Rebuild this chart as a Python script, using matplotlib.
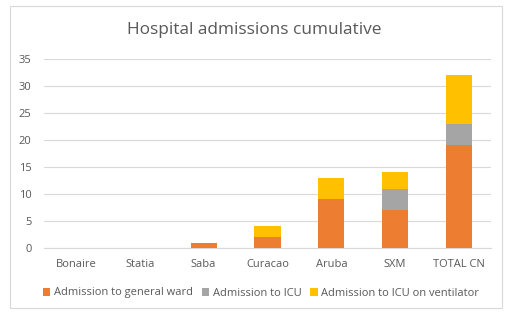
import matplotlib.pyplot as plt
from matplotlib.patches import Rectangle

###### DATA ######
categories = ["Bonaire", "Statia", "Saba", "Curacao", "Aruba", "SXM", "TOTAL CN"]
general_ward = [0, 0, 1, 2, 9, 7, 19]
icu = [0, 0, 0, 0, 0, 4, 4]
icu_ventilator = [0, 0, 0, 2, 4, 3, 9]
y_ticks = [0, 5, 10, 15, 20, 25, 30, 35]

###### STYLE ######
plt.rcParams['font.family'] = ['Open Sans', 'DejaVu Sans']
text_col = "#595959"
colors = ["#ED7D31", "#A5A5A5", "#FFC000"]

fig = plt.figure(figsize=(5.08, 3.12), dpi=100)
fig.patches.append(Rectangle((10/508, 1 - 308/312), 492/508, 302/312,
                             transform=fig.transFigure, fill=False,
                             edgecolor="#D9D9D9", linewidth=0.8))

ax = fig.add_axes([44/508, 1 - 248/312, 447/508, 189/312])

x = list(range(len(categories)))
bottom2 = [a + b for a, b in zip(general_ward, icu)]
ax.bar(x, general_ward, width=0.41, color=colors[0], label="Admission to general ward", zorder=3)
ax.bar(x, icu, width=0.41, bottom=general_ward, color=colors[1], label="Admission to ICU", zorder=3)
ax.bar(x, icu_ventilator, width=0.41, bottom=bottom2, color=colors[2],
       label="Admission to ICU on ventilator", zorder=3)

ax.set_xlim(-0.5, len(categories) - 0.5)
ax.set_ylim(0, 35)
ax.set_yticks(y_ticks)
ax.set_xticks(x)
ax.set_xticklabels(categories)
ax.grid(axis="y", color="#D9D9D9", linewidth=0.8, zorder=0)
for s in ["top", "right", "left"]:
    ax.spines[s].set_visible(False)
ax.spines["bottom"].set_color("#D9D9D9")
ax.tick_params(length=0, colors=text_col, labelsize=8)
ax.tick_params(axis="x", pad=8)
ax.tick_params(axis="y", pad=9)

fig.text(0.5, 1 - 30/312, "Hospital admissions cumulative", ha="center", va="center",
         fontsize=12.4, color=text_col)

fig.legend(loc="center", bbox_to_anchor=(261/508, 1 - 293/312), ncol=3, frameon=False,
           fontsize=8, labelcolor=text_col, handlelength=0.7, handleheight=0.7,
           handletextpad=0.3, columnspacing=0.8)

fig.savefig("out.png", dpi=100)
